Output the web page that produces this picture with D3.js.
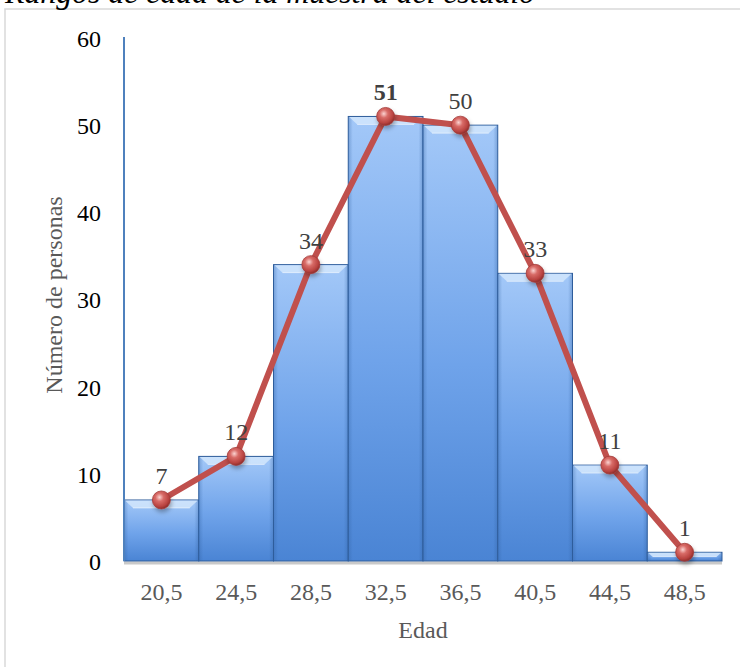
<!DOCTYPE html>
<html><head><meta charset="utf-8">
<script src="https://cdn.jsdelivr.net/npm/d3@7"></script>
<style>body{margin:0;background:#fff}svg{display:block}</style>
</head><body>
<svg id="c" width="740" height="667"></svg>
<script>
const categories = ["20,5","24,5","28,5","32,5","36,5","40,5","44,5","48,5"];
const values = [7,12,34,51,50,33,11,1];
const yTicks = [0,10,20,30,40,50,60];
const title = "Rangos de edad de la muestra del estudio";
const xTitle = "Edad";
const yTitle = "Número de personas";

(function(){
const svg = d3.select("#c");
const FONT = "'Liberation Serif', 'Times New Roman', serif";
const pLeft = 124, pRight = 722, pTop = 38, pBottom = 561;

const x = d3.scaleBand().domain(categories).range([pLeft, pRight]).padding(0);
const y = d3.scaleLinear().domain([0, 60]).range([pBottom, pTop]);

const defs = svg.append("defs");
const bg = defs.append("linearGradient").attr("id","barG").attr("x1",0).attr("y1",0).attr("x2",0).attr("y2",1);
bg.append("stop").attr("offset","0%").attr("stop-color","#a3c8f8");
bg.append("stop").attr("offset","55%").attr("stop-color","#6fa3ea");
bg.append("stop").attr("offset","100%").attr("stop-color","#4a84d4");
const sg = defs.append("linearGradient").attr("id","sideG").attr("x1",0).attr("y1",0).attr("x2",1).attr("y2",0);
sg.append("stop").attr("offset","0%").attr("stop-color","#2f5f9f").attr("stop-opacity",0.35);
sg.append("stop").attr("offset","6%").attr("stop-color","#2f5f9f").attr("stop-opacity",0);
sg.append("stop").attr("offset","94%").attr("stop-color","#2f5f9f").attr("stop-opacity",0);
sg.append("stop").attr("offset","100%").attr("stop-color","#2f5f9f").attr("stop-opacity",0.35);
const mg = defs.append("radialGradient").attr("id","mkG").attr("cx","40%").attr("cy","35%").attr("r","65%");
mg.append("stop").attr("offset","0%").attr("stop-color","#fbd3d1");
mg.append("stop").attr("offset","35%").attr("stop-color","#d86b67");
mg.append("stop").attr("offset","80%").attr("stop-color","#b8423f");
mg.append("stop").attr("offset","100%").attr("stop-color","#8e2e2c");
const f = defs.append("filter").attr("id","sh").attr("x","-50%").attr("y","-50%").attr("width","200%").attr("height","200%");
f.append("feDropShadow").attr("dx",1).attr("dy",3).attr("stdDeviation",2).attr("flood-color","#000").attr("flood-opacity",0.3);

// chart border
svg.append("rect").attr("x",5).attr("y",9).attr("width",760).attr("height",700)
  .attr("fill","none").attr("stroke","#d9d9d9").attr("stroke-width",1.5);

// title (partially cut off at top)
const t = svg.append("text").attr("x",5).attr("y",3).attr("font-family",FONT)
  .attr("font-style","italic").attr("font-size",28).attr("fill","#000").text(title);
const tl = t.node().getComputedTextLength();
t.attr("font-size", 28 * 530 / tl);

// x-axis base line
svg.append("line").attr("x1",pLeft).attr("x2",pRight).attr("y1",pBottom+2).attr("y2",pBottom+2)
  .attr("stroke","#c9c9c9").attr("stroke-width",3);

// bars
const bars = svg.append("g");
categories.forEach((c,i) => {
  const x0 = x(c), w = x.bandwidth(), y0 = y(values[i]), h = pBottom - y0;
  bars.append("rect").attr("x",x0).attr("y",y0).attr("width",w).attr("height",h)
    .attr("fill","url(#barG)").attr("stroke","#2e5c9a").attr("stroke-width",1);
  bars.append("rect").attr("x",x0).attr("y",y0).attr("width",w).attr("height",h)
    .attr("fill","url(#sideG)");
  const b = Math.min(8, h/2);
  bars.append("polygon")
    .attr("points",[[x0+1,y0+0.5],[x0+w-1,y0+0.5],[x0+w-1-b,y0+b],[x0+1+b,y0+b]].map(p=>p.join(",")).join(" "))
    .attr("fill","#cfe4fc").attr("opacity",0.9);
  bars.append("line").attr("x1",x0+1+b).attr("x2",x0+w-1-b).attr("y1",y0+b).attr("y2",y0+b)
    .attr("stroke","#ffffff").attr("stroke-opacity",0.5).attr("stroke-width",1);
});

// y axis
svg.append("line").attr("x1",pLeft).attr("x2",pLeft).attr("y1",pTop-1).attr("y2",pBottom)
  .attr("stroke","#4f81bd").attr("stroke-width",2);
const yAxis = d3.axisLeft(y).tickValues(yTicks).tickSize(0).tickPadding(0).tickFormat(d3.format("d"));
const ga = svg.append("g").attr("transform",`translate(${pLeft-23},0)`).call(yAxis);
ga.select(".domain").remove();
ga.selectAll("text").attr("font-family",FONT).attr("font-size",24).attr("fill","#000").attr("dy","0.35em");

// x axis labels
const xAxis = d3.axisBottom(x).tickSize(0).tickPadding(0);
const gx = svg.append("g").attr("transform",`translate(0,${pBottom})`).call(xAxis);
gx.select(".domain").remove();
gx.selectAll("text").attr("font-family",FONT).attr("font-size",24).attr("fill","#595959")
  .attr("y",39).attr("dy",0);

// axis titles
svg.append("text").attr("x",(pLeft+pRight)/2).attr("y",638).attr("text-anchor","middle")
  .attr("font-family",FONT).attr("font-size",24).attr("fill","#595959").text(xTitle);
svg.append("text").attr("transform","translate(62,295) rotate(-90)").attr("text-anchor","middle")
  .attr("font-family",FONT).attr("font-size",24).attr("fill","#595959").text(yTitle);

// line
const pts = categories.map((c,i)=>[x(c)+x.bandwidth()/2, y(values[i])]);
svg.append("path").attr("d", d3.line()(pts)).attr("fill","none")
  .attr("stroke","#c0504d").attr("stroke-width",6).attr("stroke-linejoin","round");
svg.append("g").selectAll("circle").data(pts).join("circle")
  .attr("cx",d=>d[0]).attr("cy",d=>d[1]).attr("r",9)
  .attr("fill","url(#mkG)").attr("stroke","#a33c3a").attr("stroke-width",0.8).attr("filter","url(#sh)");

// data labels
svg.append("g").selectAll("text").data(pts).join("text")
  .attr("x",d=>d[0]).attr("y",d=>d[1]-16).attr("text-anchor","middle")
  .attr("font-family",FONT).attr("font-size",24).attr("fill","#404040")
  .attr("font-weight",(d,i)=>values[i]===d3.max(values)?"bold":"normal")
  .text((d,i)=>values[i]);
})();
</script>
</body></html>
